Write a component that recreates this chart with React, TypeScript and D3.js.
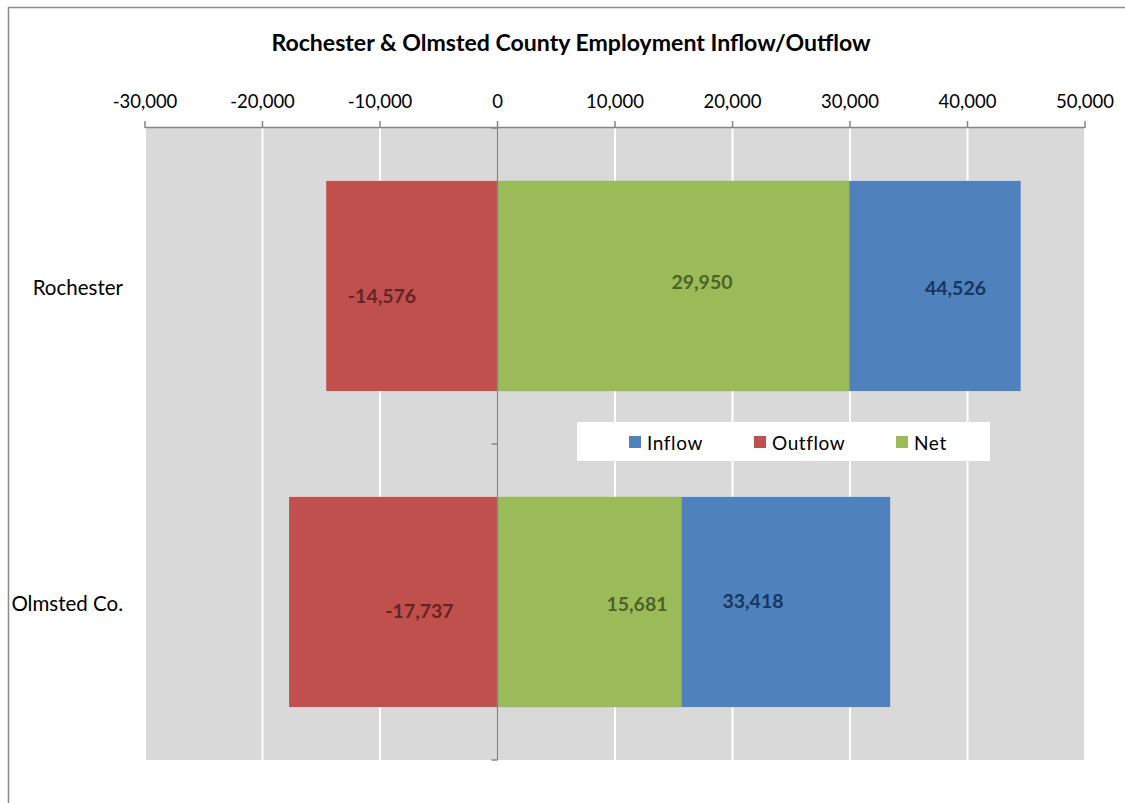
import React from "react";
import * as d3 from "d3";

const categories = ["Rochester", "Olmsted Co."];
const inflow = [44526, 33418];
const outflow = [-14576, -17737];
const net = [29950, 15681];
const tickValues = [-30000, -20000, -10000, 0, 10000, 20000, 30000, 40000, 50000];
const seriesNames = ["Inflow", "Outflow", "Net"];
const seriesColors = ["#4F81BD", "#C0504D", "#9BBB59"];
const labelColors = ["#17375E", "#632523", "#4F6228"];

// manually positioned data labels (in data units along x, px offset from band center)
const labelAnchorInflow = [38979, 21745];
const labelAnchorOutflow = [-9830, -6638];
const labelAnchorNet = [17404, 11872];
const labelDyInflow = [1, -2];
const labelDyOutflow = [9, 8];
const labelDyNet = [-5, 1];

const W = 1125;
const H = 803;
const FONT = "Lato, 'Open Sans', sans-serif";

export default function App() {
  const x = d3.scaleLinear().domain([-30000, 50000]).range([145, 1085]);
  const y = d3
    .scaleBand<string>()
    .domain(categories)
    .range([128, 760])
    .paddingInner(0.335)
    .paddingOuter(0.1675);
  const locale = d3.formatLocale({ decimal: ".", thousands: ",", grouping: [3], currency: ["$", ""], minus: "-" });
  const fmt = locale.format(",");
  const plotTop = 128;
  const plotBottom = 760;
  const bw = y.bandwidth();
  const step = y.step();

  const series = [inflow, outflow, net];
  const anchors = [labelAnchorInflow, labelAnchorOutflow, labelAnchorNet];
  const dys = [labelDyInflow, labelDyOutflow, labelDyNet];

  const legendX = 577;
  const legendY = 422;
  const legendItemX = [629, 754, 896];

  return (
    <svg
      width={W}
      height={H}
      style={{ position: "absolute", left: 0, top: 0, background: "#fff" }}
      fontFamily={FONT}
    >
      <rect x={0} y={0} width={W} height={H} fill="#fff" />
      {/* outer frame */}
      <path d={`M8.5,${H + 5} L8.5,7.5 L${W + 5},7.5`} fill="none" stroke="#8c8c8c" strokeWidth={1.5} />

      <text x={571} y={42} textAnchor="middle" dominantBaseline="central" fontWeight="bold" fontSize={23.1} fill="#000">
        Rochester &amp; Olmsted County Employment Inflow/Outflow
      </text>

      {/* plot area */}
      <rect x={x(-30000)} y={plotTop} width={x(50000) - x(-30000)} height={plotBottom - plotTop} fill="#D9D9D9" />
      {tickValues.map((t) => (
        <line key={"g" + t} x1={x(t)} x2={x(t)} y1={plotTop} y2={plotBottom} stroke="#fff" strokeWidth={2} />
      ))}

      {/* bars */}
      {series.map((vals, si) =>
        categories.map((c, ci) => {
          const v = vals[ci];
          const x0 = x(Math.min(0, v));
          const x1 = x(Math.max(0, v));
          return (
            <rect key={si + "-" + ci} x={x0} y={y(c)!} width={x1 - x0} height={bw} fill={seriesColors[si]} />
          );
        })
      )}

      {/* vertical category axis at 0 */}
      <line x1={x(0)} x2={x(0)} y1={plotTop} y2={plotBottom} stroke="#868686" strokeWidth={1.5} />
      {[0, 1, 2].map((i) => (
        <line
          key={"ct" + i}
          x1={x(0) - 6}
          x2={x(0)}
          y1={plotTop + step * i}
          y2={plotTop + step * i}
          stroke="#868686"
          strokeWidth={1.5}
        />
      ))}

      {/* top value axis */}
      <line x1={x(-30000)} x2={x(50000)} y1={plotTop - 0.5} y2={plotTop - 0.5} stroke="#868686" strokeWidth={1.5} />
      {tickValues.map((t) => (
        <g key={"t" + t}>
          <line x1={x(t)} x2={x(t)} y1={plotTop - 7} y2={plotTop} stroke="#868686" strokeWidth={1.5} />
          <text x={x(t)} y={101} textAnchor="middle" dominantBaseline="central" fontSize={18.5} fill="#000">
            {fmt(t)}
          </text>
        </g>
      ))}

      {/* category labels */}
      {categories.map((c) => (
        <text
          key={"cl" + c}
          x={123}
          y={y(c)! + bw / 2 + 1}
          textAnchor="end"
          dominantBaseline="central"
          fontSize={20.5}
          fill="#000"
        >
          {c}
        </text>
      ))}

      {/* data labels */}
      {series.map((vals, si) =>
        categories.map((c, ci) => (
          <text
            key={"dl" + si + ci}
            x={x(anchors[si][ci])}
            y={y(c)! + bw / 2 + dys[si][ci]}
            textAnchor="middle"
            dominantBaseline="central"
            fontWeight="bold"
            fontSize={19.5}
            fill={labelColors[si]}
          >
            {fmt(vals[ci])}
          </text>
        ))
      )}

      {/* legend */}
      <rect x={legendX} y={legendY} width={413} height={39} fill="#fff" />
      {seriesNames.map((n, i) => (
        <g key={"lg" + n}>
          <rect x={legendItemX[i]} y={legendY + 14} width={12} height={12} fill={seriesColors[i]} />
          <text
            x={legendItemX[i] + 18}
            y={legendY + 20}
            dominantBaseline="central"
            fontSize={19}
            letterSpacing={0.6}
            fill="#000"
          >
            {n}
          </text>
        </g>
      ))}
    </svg>
  );
}
